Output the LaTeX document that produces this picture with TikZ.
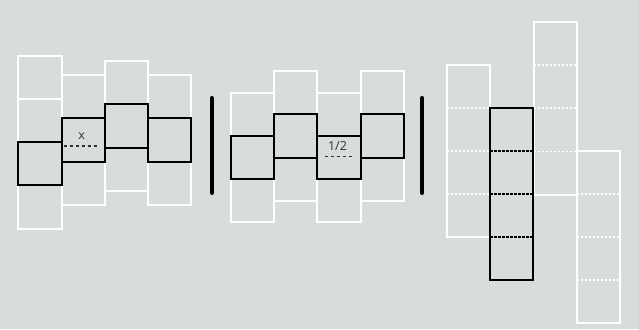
\documentclass[tikz,border=0pt]{standalone}
\usepackage{fontspec}
\setsansfont{Open Sans}
\usetikzlibrary{calc}
\definecolor{bg}{HTML}{D9DCDD}
\definecolor{txt}{HTML}{333333}
\begin{document}
\begin{tikzpicture}[x=1pt,y=-1pt,
  cell/.style={rectangle,line width=2pt,minimum width=43.2pt,minimum height=43.2pt,inner sep=0pt,outer sep=0pt,anchor=north west},
  wcell/.style={cell,draw=white},
  bcell/.style={cell,draw=black},
  wtall/.style={wcell,minimum height=172.8pt},
  btall/.style={bcell,minimum height=172.8pt},
  bar/.style={line width=4pt,line cap=round},
  lbl/.style={font=\sffamily\fontsize{12.5}{14}\selectfont,text=txt,inner sep=0pt},
  mdash/.style={draw=txt,line width=1.2pt,dash pattern=on 3pt off 3pt},
  wdash/.style={draw=white,line width=1.6pt,dash pattern=on 2.5pt off 1.5pt},
  bdash/.style={draw=black,line width=1.6pt,dash pattern=on 2.5pt off 1.5pt}]
\fill[bg] (0,0) rectangle (639,329);
\useasboundingbox (0,0) rectangle (639,329);
% Panel 1
\node[wcell] (a1) at (18.3,55.7) {};
\node[wcell] (a2) at (18.3,98.9) {};
\node[wcell] (a4) at (18.3,185.3) {};
\node[wcell] (b1) at (61.5,75.1) {};
\node[wcell] (b3) at (61.5,161.5) {};
\node[wcell] (c1) at (104.7,61.1) {};
\node[wcell] (c3) at (104.7,147.5) {};
\node[wcell] (d1) at (147.9,75.1) {};
\node[wcell] (d3) at (147.9,161.5) {};
\node[bcell] (a3) at (18.3,142.1) {};
\node[bcell] (b2) at (61.5,118.3) {};
\node[bcell] (c2) at (104.7,104.3) {};
\node[bcell] (d2) at (147.9,118.3) {};
\coordinate (xl) at (63.5,146);
\coordinate (xr) at (99,146);
\draw[mdash] (xl) -- (xr);
\node[lbl] (xt) at (81.7,136) {x};
% separators
\coordinate (s1t) at (211.7,98);
\coordinate (s1b) at (211.7,193);
\draw[bar] (s1t) -- (s1b);
\coordinate (s2t) at (422.3,98);
\coordinate (s2b) at (422.3,193);
\draw[bar] (s2t) -- (s2b);
% Panel 2
\node[wcell] (e1) at (231,92.5) {};
\node[wcell] (e3) at (231,178.9) {};
\node[wcell] (f1) at (274.2,71.1) {};
\node[wcell] (f3) at (274.2,157.5) {};
\node[wcell] (g1) at (317.4,92.5) {};
\node[wcell] (g3) at (317.4,178.9) {};
\node[wcell] (h1) at (360.6,71.1) {};
\node[wcell] (h3) at (360.6,157.5) {};
\node[bcell] (e2) at (231,135.7) {};
\node[bcell] (f2) at (274.2,114.3) {};
\node[bcell] (g2) at (317.4,135.7) {};
\node[bcell] (h2) at (360.6,114.3) {};
\coordinate (hl) at (324.5,156.7);
\coordinate (hr) at (354,156.7);
\draw[mdash] (hl) -- (hr);
\node[lbl] (ht) at (337.5,145.5) {1/2};
% Panel 3
\node[wtall] (p1) at (446.7,64.6) {};
\node[wtall] (p3) at (533.5,21.8) {};
\node[wtall] (p4) at (576.7,150.6) {};
\foreach \n in {p1,p3,p4}{
  \foreach \k in {1,2,3}{
    \draw[wdash] ($(\n.north west)+(0,43.2*\k)$) -- ($(\n.north east)+(0,43.2*\k)$);
  }
}
\node[btall] (p2) at (490.1,107.6) {};
\foreach \k in {1,2,3}{
  \draw[bdash] ($(p2.north west)+(0,43.2*\k)$) -- ($(p2.north east)+(0,43.2*\k)$);
}
\end{tikzpicture}
\end{document}
